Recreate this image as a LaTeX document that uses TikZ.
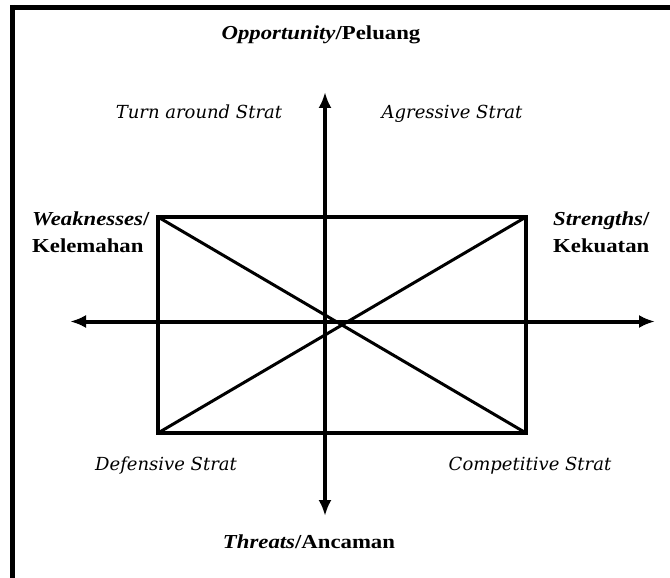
\documentclass[tikz,border=0pt]{standalone}
\usepackage{fontspec}
\setmainfont{Liberation Serif}
\newfontfamily\headfont[FakeStretch=1.15]{Liberation Serif}
\newfontfamily\stratfont{DejaVu Serif}
\usetikzlibrary{arrows.meta}
\begin{document}
\begin{tikzpicture}[x=1pt,y=-1pt,
  axis/.style={line width=4pt,-{Latex[length=16pt,width=13pt]}},
  diag/.style={line width=3pt},
  head/.style={inner sep=0pt,font=\headfont\fontsize{19.8}{23}\selectfont},
  strat/.style={inner sep=0pt,anchor=base,font=\stratfont\itshape\fontsize{18}{21}\selectfont},
  frame/.style={line width=5pt}]
\useasboundingbox (0,0) rectangle (670,578);
% partial frame
\coordinate (fa) at (670,7.5);
\coordinate (fb) at (12.5,5);
\coordinate (fc) at (12.5,578);
\draw[frame] (fa) -- (10,7.5);
\draw[frame] (fb) -- (fc);
% rectangle
\node[draw,line width=4pt,minimum width=368pt,minimum height=216pt,outer sep=0pt,inner sep=0pt] (r) at (342,325) {};
\draw[diag] (r.north west) -- (r.south east);
\draw[diag] (r.south west) -- (r.north east);
% axes
\coordinate (vc) at (325,321.5);
\coordinate (vt) at (325,92);
\coordinate (vb) at (325,516);
\coordinate (hl) at (70,321.5);
\coordinate (hr) at (655,321.5);
\draw[axis] (vc) -- (vt);
\draw[axis] (vc) -- (vb);
\draw[axis] (vc) -- (hl);
\draw[axis] (vc) -- (hr);
% labels
\node[head,anchor=base] (opp) at (321,40) {\textbf{\textit{Opportunity}/Peluang}};
\node[head,anchor=base] (thr) at (309,548) {\textbf{\textit{Threats}/Ancaman}};
\node[head,anchor=base west] (wk1) at (32,225) {\textbf{\textit{Weaknesses}/}};
\node[head,anchor=base west] (wk2) at (32,252.5) {\textbf{Kelemahan}};
\node[head,anchor=base west] (st1) at (553,225) {\textbf{\textit{Strengths}/}};
\node[head,anchor=base west] (st2) at (553,252.5) {\textbf{Kekuatan}};
\node[strat] (ta) at (199,118) {Turn around Strat};
\node[strat] (ag) at (452,118) {Agressive Strat};
\node[strat] (df) at (166,470) {Defensive Strat};
\node[strat] (cp) at (530,470) {Competitive Strat};
\end{tikzpicture}
\end{document}
